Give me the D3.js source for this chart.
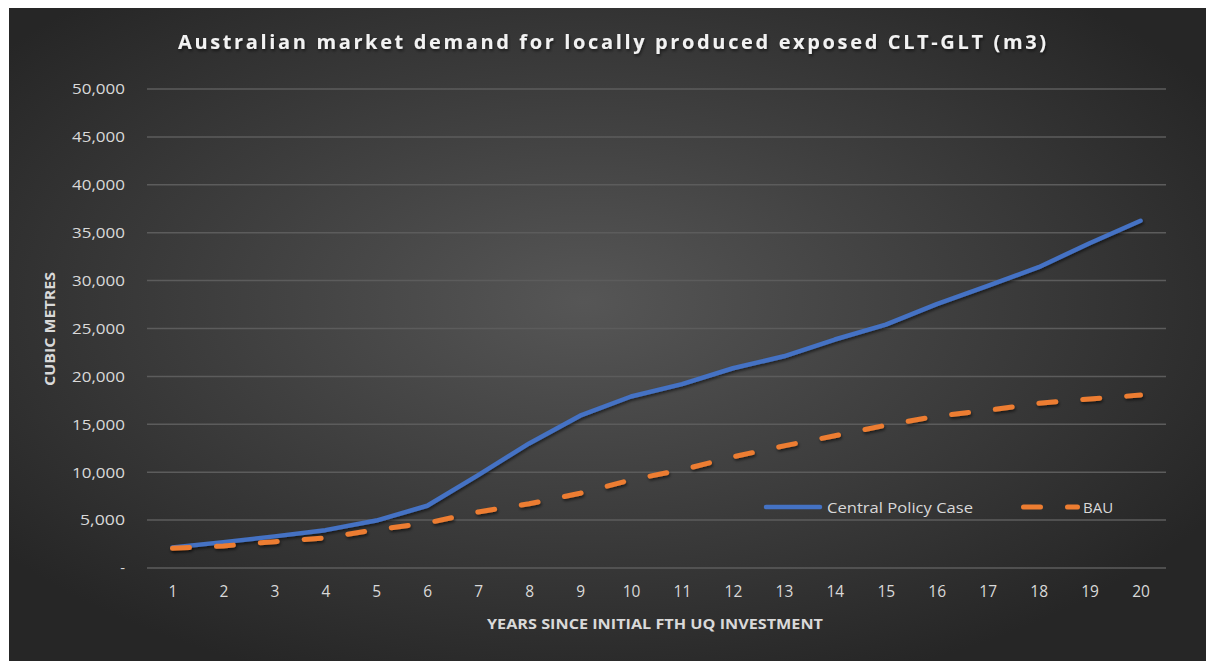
<!DOCTYPE html>
<html>
<head>
<meta charset="utf-8">
<script src="https://cdn.jsdelivr.net/npm/d3@7"></script>
<style>
  body { margin: 0; background: #fff; }
  svg text { font-family: "Open Sans", "Noto Sans", sans-serif; }
</style>
</head>
<body>
<div class="chart"></div>
<script>
const years = d3.range(1, 21).map(String);
const centralPolicy = [2150, 2700, 3300, 3950, 4950, 6500, 9700, 13000, 15900, 17900,
  19200, 20850, 22100, 23850, 25400, 27550, 29450, 31400, 33900, 36250];
const bau = [2050, 2300, 2750, 3150, 4000, 4700, 5850, 6700, 7800, 9200,
  10250, 11600, 12750, 13800, 14900, 15850, 16450, 17200, 17650, 18050];
const yTicks = [0, 5000, 10000, 15000, 20000, 25000, 30000, 35000, 40000, 45000, 50000];

const chartWidth = 1206;
const chartHeight = 661;

const margin = { left: 147, right: 40, top: 89, bottom: 93 };
const width = chartWidth - margin.left - margin.right;
const height = chartHeight - margin.top - margin.bottom;

const root = d3.select('.chart')
  .append('svg')
  .attr('width', chartWidth)
  .attr('height', chartHeight);

const defs = root.append('defs');
const grad = defs.append('radialGradient')
  .attr('id', 'bg')
  .attr('cx', '48%').attr('cy', '45%').attr('r', '62%');
grad.append('stop').attr('offset', '0%').attr('stop-color', '#565656');
grad.append('stop').attr('offset', '100%').attr('stop-color', '#262626');

const shadow = defs.append('filter')
  .attr('id', 'shadow')
  .attr('x', '-5%').attr('y', '-20%').attr('width', '110%').attr('height', '140%');
shadow.append('feDropShadow')
  .attr('dx', 1).attr('dy', 2).attr('stdDeviation', 1.5)
  .attr('flood-color', '#000').attr('flood-opacity', 0.55);

root.append('rect')
  .attr('x', 9).attr('y', 8)
  .attr('width', chartWidth - 9).attr('height', chartHeight - 8)
  .attr('fill', 'url(#bg)');

root.append('text')
  .attr('x', 612).attr('y', 49)
  .attr('text-anchor', 'middle')
  .attr('font-size', '20px')
  .attr('font-weight', 'bold')
  .attr('fill', '#f2f2f2')
  .attr('textLength', 868)
  .attr('lengthAdjust', 'spacing')
  .attr('filter', 'url(#shadow)')
  .text('Australian market demand for locally produced exposed CLT-GLT (m3)');

const svg = root.append('g')
  .attr('transform', `translate(${margin.left}, ${margin.top})`);

const xScale = d3.scalePoint()
  .domain(years)
  .range([0, width])
  .padding(0.5);

const yScale = d3.scaleLinear()
  .domain([0, 50000])
  .range([height, 0]);

// gridlines
svg.append('g')
  .selectAll('line')
  .data(yTicks)
  .enter()
  .append('line')
  .attr('x1', 0)
  .attr('x2', width)
  .attr('y1', d => yScale(d))
  .attr('y2', d => yScale(d))
  .attr('stroke', '#5c5c5c')
  .attr('stroke-width', 1.5);

const yAxis = d3.axisLeft(yScale)
  .tickValues(yTicks)
  .tickSize(0)
  .tickPadding(22)
  .tickFormat(d => d === 0 ? '-' : d3.format(',')(d));
const yAxisEl = svg.append('g').call(yAxis);
yAxisEl.select('.domain').remove();
yAxisEl.selectAll('text')
  .attr('fill', '#d9d9d9')
  .attr('font-size', '15px')
  .attr('textLength', d => d === 0 ? null : (d >= 10000 ? 53 : 45))
  .attr('lengthAdjust', 'spacingAndGlyphs');

const xAxis = d3.axisBottom(xScale).tickSize(0).tickPadding(18);
const xAxisEl = svg.append('g')
  .attr('transform', `translate(0, ${height})`)
  .call(xAxis);
xAxisEl.select('.domain').remove();
xAxisEl.selectAll('text')
  .attr('fill', '#d9d9d9')
  .attr('font-size', '15.5px');

root.append('text')
  .attr('x', 655).attr('y', 629)
  .attr('text-anchor', 'middle')
  .attr('font-size', '14px')
  .attr('font-weight', 'bold')
  .attr('fill', '#d9d9d9')
  .attr('textLength', 336)
  .attr('lengthAdjust', 'spacingAndGlyphs')
  .text('YEARS SINCE INITIAL FTH UQ INVESTMENT');

root.append('text')
  .attr('transform', 'translate(55, 329) rotate(-90)')
  .attr('text-anchor', 'middle')
  .attr('font-size', '14px')
  .attr('font-weight', 'bold')
  .attr('fill', '#d9d9d9')
  .attr('textLength', 114)
  .attr('lengthAdjust', 'spacingAndGlyphs')
  .text('CUBIC METRES');

const line = d3.line()
  .x((d, i) => xScale(years[i]))
  .y(d => yScale(d));

svg.append('path')
  .datum(centralPolicy)
  .attr('d', line)
  .attr('fill', 'none')
  .attr('stroke', '#4472c4')
  .attr('stroke-width', 4.5)
  .attr('stroke-linejoin', 'round')
  .attr('stroke-linecap', 'round')
  .attr('filter', 'url(#shadow)');

svg.append('path')
  .datum(bau)
  .attr('d', line)
  .attr('fill', 'none')
  .attr('stroke', '#ed7d31')
  .attr('stroke-width', 5)
  .attr('stroke-dasharray', '17,27')
  .attr('stroke-linejoin', 'round')
  .attr('stroke-linecap', 'round')
  .attr('filter', 'url(#shadow)');

// legend
const legend = root.append('g');
legend.append('line')
  .attr('x1', 766).attr('x2', 820)
  .attr('y1', 507).attr('y2', 507)
  .attr('stroke', '#4472c4')
  .attr('stroke-width', 4.5)
  .attr('stroke-linecap', 'round');
legend.append('text')
  .attr('x', 827).attr('y', 512.5)
  .attr('font-size', '15px')
  .attr('fill', '#d9d9d9')
  .attr('textLength', 146)
  .attr('lengthAdjust', 'spacingAndGlyphs')
  .text('Central Policy Case');
legend.append('line')
  .attr('x1', 1023.5).attr('x2', 1077.5)
  .attr('y1', 507).attr('y2', 507)
  .attr('stroke', '#ed7d31')
  .attr('stroke-width', 5)
  .attr('stroke-dasharray', '17,27')
  .attr('stroke-linecap', 'round');
legend.append('text')
  .attr('x', 1083).attr('y', 512.5)
  .attr('font-size', '15px')
  .attr('fill', '#d9d9d9')
  .text('BAU');
</script>
</body>
</html>
